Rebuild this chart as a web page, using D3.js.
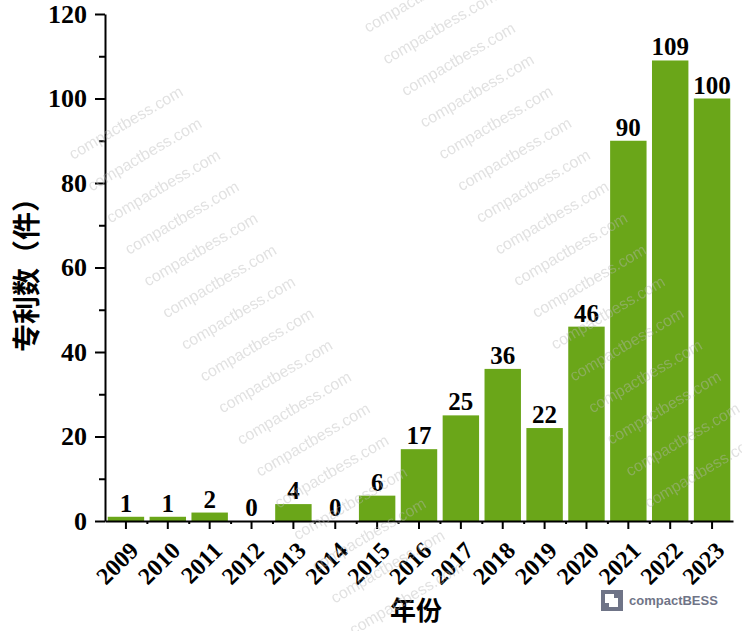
<!DOCTYPE html>
<html>
<head>
<meta charset="utf-8">
<script src="https://d3js.org/d3.v7.min.js"></script>
<style>
  html, body { margin: 0; padding: 0; background: #fff; }
  svg { display: block; }
</style>
</head>
<body>
<div id="chart"></div>
<script>
// Patent counts per year
const years = ['2009', '2010', '2011', '2012', '2013', '2014', '2015', '2016',
               '2017', '2018', '2019', '2020', '2021', '2022', '2023'];
const patents = [1, 1, 2, 0, 4, 0, 6, 17, 25, 36, 22, 46, 90, 109, 100];
const yTicks = [0, 20, 40, 60, 80, 100, 120];
const yMinorTicks = [10, 30, 50, 70, 90, 110];
const yTitle = '专利数（件）';
const xTitle = '年份';
const watermark = 'compactbess.com';
const brand = 'compactBESS';

const width = 742, height = 631;
const plotLeft = 105, plotRight = 733, plotTop = 14, plotBottom = 521;

const svg = d3.select('#chart').append('svg')
    .attr('width', width)
    .attr('height', height);

const x = d3.scaleBand()
    .domain(years)
    .range([plotLeft, plotRight])
    .paddingInner(0.13)
    .paddingOuter(0.065);

const y = d3.scaleLinear()
    .domain([0, 120])
    .range([plotBottom, plotTop]);

const numFont = '"Liberation Serif", "Times New Roman", serif';
const cjkFont = '"Noto Sans CJK SC", sans-serif';

// Bars
svg.append('g')
    .selectAll('rect')
    .data(patents)
    .join('rect')
    .attr('x', (d, i) => x(years[i]))
    .attr('y', d => y(d))
    .attr('width', x.bandwidth())
    .attr('height', d => y(0) - y(d))
    .attr('fill', '#6aa619');

// Value labels
svg.append('g')
    .selectAll('text')
    .data(patents)
    .join('text')
    .attr('x', (d, i) => x(years[i]) + x.bandwidth() / 2)
    .attr('y', d => y(d) - 5)
    .attr('text-anchor', 'middle')
    .attr('font-family', numFont)
    .attr('font-weight', 'bold')
    .attr('font-size', 25)
    .attr('fill', '#000')
    .text(d => d);

// Y axis (major + minor ticks)
const yAxis = svg.append('g')
    .attr('transform', `translate(${plotLeft},0)`)
    .call(d3.axisLeft(y).tickValues(yTicks).tickSize(10).tickSizeOuter(0).tickPadding(8));

svg.append('g')
    .attr('transform', `translate(${plotLeft},0)`)
    .call(d3.axisLeft(y).tickValues(yMinorTicks).tickSize(6).tickFormat(''))
    .call(g => g.select('.domain').remove());

yAxis.selectAll('text')
    .attr('font-family', numFont)
    .attr('font-weight', 'bold')
    .attr('font-size', 26)
    .attr('fill', '#000');

// X axis (ticks at centres, short ticks at boundaries)
const xAxis = svg.append('g')
    .attr('transform', `translate(0,${plotBottom})`)
    .call(d3.axisBottom(x).tickSize(8).tickSizeOuter(0));

const xb = d3.scaleLinear().domain([0, years.length]).range([plotLeft, plotRight]);
svg.append('g')
    .attr('transform', `translate(0,${plotBottom})`)
    .call(d3.axisBottom(xb).tickValues(d3.range(1, years.length)).tickSize(3).tickFormat(''))
    .call(g => g.select('.domain').remove());

xAxis.selectAll('text')
    .attr('font-family', numFont)
    .attr('font-weight', 'bold')
    .attr('font-size', 24)
    .attr('fill', '#000')
    .attr('text-anchor', 'end')
    .attr('dy', 0)
    .attr('y', 0)
    .attr('transform', 'translate(14,31) rotate(-45)');

svg.selectAll('.domain, .tick line')
    .attr('stroke', '#000')
    .attr('stroke-width', 2);

// Axis titles
svg.append('text')
    .attr('transform', 'translate(37,268) rotate(-90)')
    .attr('text-anchor', 'middle')
    .attr('font-family', cjkFont)
    .attr('font-weight', 'bold')
    .attr('font-size', 28)
    .attr('fill', '#000')
    .text(yTitle);

svg.append('text')
    .attr('x', 416)
    .attr('y', 620)
    .attr('text-anchor', 'middle')
    .attr('font-family', cjkFont)
    .attr('font-weight', 'bold')
    .attr('font-size', 26)
    .attr('fill', '#000')
    .text(xTitle);

// Watermark text, two diagonal columns
const wm = svg.append('g')
    .attr('font-family', '"Liberation Sans", Arial, sans-serif')
    .attr('font-size', 16)
    .attr('fill', '#b8b8b8')
    .attr('opacity', 0.42);

[[73, 160, 0, 15], [368, 33, -1, 15]].forEach(([x0, y0, k0, k1]) => {
    d3.range(k0, k1 + 1).forEach(k => {
        wm.append('text')
            .attr('transform', `translate(${x0 + k * 18.7},${y0 + k * 31.7}) rotate(-30.4)`)
            .text(watermark);
    });
});

// Brand logo bottom right
const logo = svg.append('g').attr('transform', 'translate(601,590)');
logo.append('rect').attr('width', 22).attr('height', 21).attr('fill', '#6f7487');
logo.append('rect').attr('x', 4).attr('y', 4).attr('width', 9).attr('height', 9).attr('fill', '#fff');
logo.append('rect').attr('x', 8).attr('y', 8).attr('width', 9).attr('height', 9).attr('fill', '#fff');
logo.append('text')
    .attr('x', 28)
    .attr('y', 15)
    .attr('font-family', '"Liberation Sans", Arial, sans-serif')
    .attr('font-weight', 'bold')
    .attr('font-size', 13)
    .attr('fill', '#6f7487')
    .text(brand);
</script>
</body>
</html>
